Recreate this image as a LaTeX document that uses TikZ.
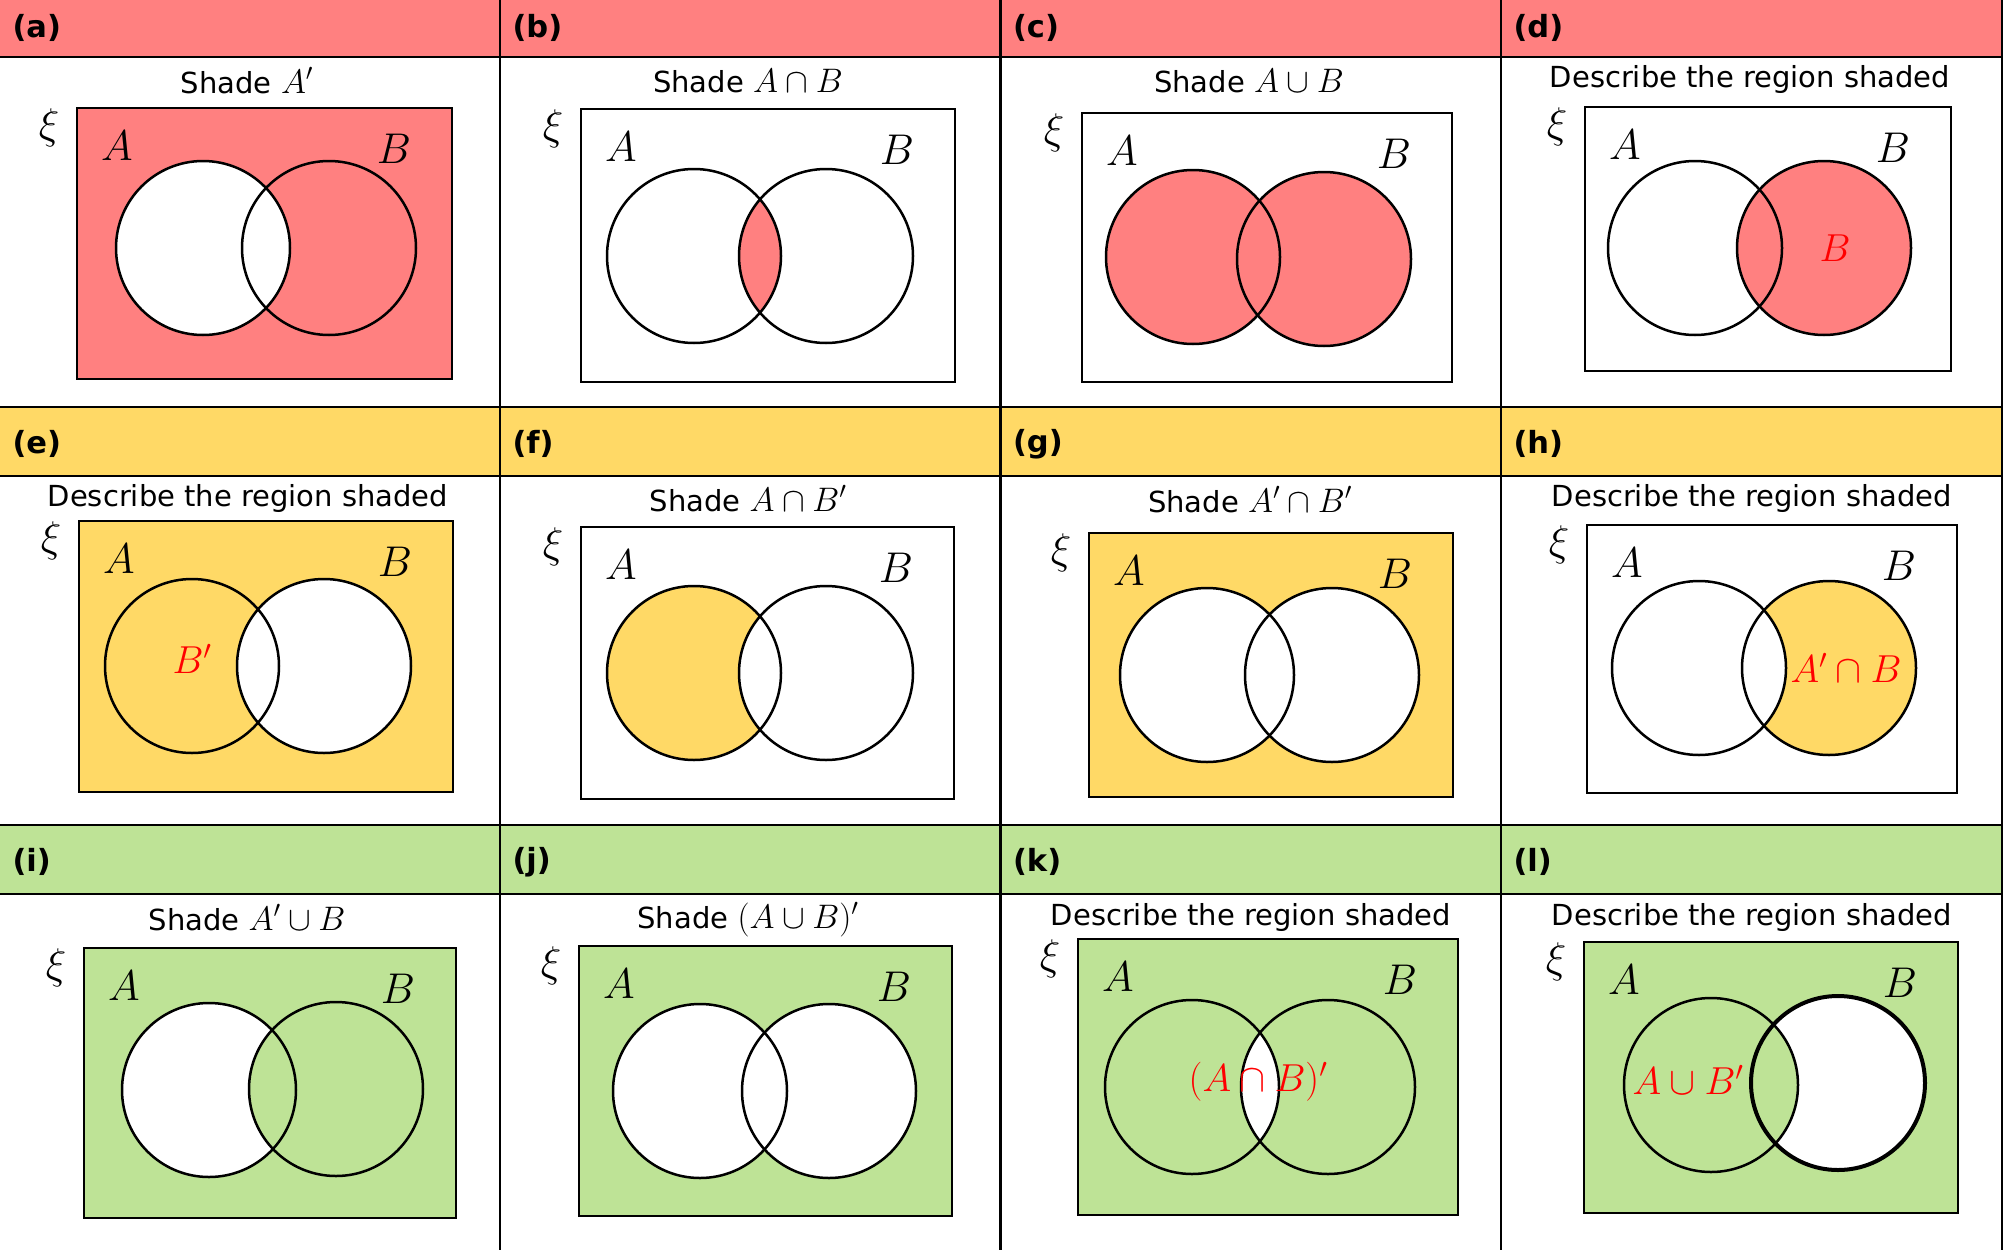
\RequirePackage{fix-cm}
\documentclass[tikz,border=0pt]{standalone}
\usepackage[no-math]{fontspec}
\setmainfont{DejaVu Sans}
\usetikzlibrary{calc}

\definecolor{redband}{RGB}{255,128,128}
\definecolor{yellowband}{RGB}{255,217,102}
\definecolor{greenband}{RGB}{190,227,150}

\tikzset{
  box/.style={draw, line width=2.8pt},
  ring/.style={draw, line width=2.5pt},
  grid/.style={draw, line width=2.6pt},
  title/.style={anchor=base, font=\fontsize{29}{34}\selectfont},
  tag/.style={anchor=west, font=\fontsize{30.5}{36}\selectfont\bfseries},
  setname/.style={font=\fontsize{43}{50}\selectfont},
  answer/.style={text=red, font=\fontsize{39}{45}\selectfont},
}
\newcommand{\vennr}{87pt}
\newcommand{\titlemath}[1]{{\fontsize{34}{40}\selectfont$#1$}}

\begin{document}
\begin{tikzpicture}[x=1pt, y=-1pt]
\useasboundingbox (0,0) rectangle (2008,1250);

% header bands
\fill[redband] (0,0) rectangle (2002,57);
\fill[yellowband] (0,407) rectangle (2002,476);
\fill[greenband] (0,825) rectangle (2002,894);

% frames and circle centres of each panel
\coordinate (a-nw) at (77,108);   \coordinate (a-se) at (452,379);
\coordinate (a-A) at (203,248);   \coordinate (a-B) at (329,248);
\coordinate (b-nw) at (581,109);  \coordinate (b-se) at (955,382);
\coordinate (b-A) at (694,256);   \coordinate (b-B) at (826,256);
\coordinate (c-nw) at (1082,113); \coordinate (c-se) at (1452,382);
\coordinate (c-A) at (1193,257);  \coordinate (c-B) at (1324,259);
\coordinate (d-nw) at (1585,107); \coordinate (d-se) at (1951,371);
\coordinate (d-A) at (1695,248);  \coordinate (d-B) at (1824,248);
\coordinate (e-nw) at (79,521);   \coordinate (e-se) at (453,792);
\coordinate (e-A) at (192,666);   \coordinate (e-B) at (324,666);
\coordinate (f-nw) at (581,527);  \coordinate (f-se) at (954,799);
\coordinate (f-A) at (694,673);   \coordinate (f-B) at (826,673);
\coordinate (g-nw) at (1089,533); \coordinate (g-se) at (1453,797);
\coordinate (g-A) at (1207,675);  \coordinate (g-B) at (1332,675);
\coordinate (h-nw) at (1587,525); \coordinate (h-se) at (1957,793);
\coordinate (h-A) at (1699,668);  \coordinate (h-B) at (1829,668);
\coordinate (i-nw) at (84,948);   \coordinate (i-se) at (456,1218);
\coordinate (i-A) at (209,1090);  \coordinate (i-B) at (336,1089);
\coordinate (j-nw) at (579,946);  \coordinate (j-se) at (952,1216);
\coordinate (j-A) at (700,1091);  \coordinate (j-B) at (829,1091);
\coordinate (k-nw) at (1078,939); \coordinate (k-se) at (1458,1215);
\coordinate (k-A) at (1192,1087); \coordinate (k-B) at (1328,1087);
\coordinate (l-nw) at (1584,942); \coordinate (l-se) at (1958,1213);
\coordinate (l-A) at (1711,1085); \coordinate (l-B) at (1838,1083);

% shading
\fill[redband] (a-nw) rectangle (a-se);
\fill[white] (a-A) circle[radius=\vennr];
\begin{scope}
  \clip (b-A) circle[radius=\vennr];
  \fill[redband] (b-B) circle[radius=\vennr];
\end{scope}
\fill[redband] (c-A) circle[radius=\vennr] (c-B) circle[radius=\vennr];
\fill[redband] (d-B) circle[radius=\vennr];
\fill[yellowband] (e-nw) rectangle (e-se);
\fill[white] (e-B) circle[radius=\vennr];
\fill[yellowband] (f-A) circle[radius=\vennr];
\fill[white] (f-B) circle[radius=\vennr];
\fill[yellowband] (g-nw) rectangle (g-se);
\fill[white] (g-A) circle[radius=\vennr] (g-B) circle[radius=\vennr];
\fill[yellowband] (h-B) circle[radius=\vennr];
\fill[white] (h-A) circle[radius=\vennr];
\fill[greenband] (i-nw) rectangle (i-se);
\fill[white] (i-A) circle[radius=\vennr];
\fill[greenband] (i-B) circle[radius=\vennr];
\fill[greenband] (j-nw) rectangle (j-se);
\fill[white] (j-A) circle[radius=\vennr] (j-B) circle[radius=\vennr];
\fill[greenband] (k-nw) rectangle (k-se);
\begin{scope}
  \clip (k-A) circle[radius=\vennr];
  \fill[white] (k-B) circle[radius=\vennr];
\end{scope}
\fill[greenband] (l-nw) rectangle (l-se);
\fill[white] (l-B) circle[radius=\vennr];
\fill[greenband] (l-A) circle[radius=\vennr];

% outlines and set names
\foreach \p in {a,b,c,d,e,f,g,h,i,j,k,l} {
  \draw[box] (\p-nw) rectangle (\p-se);
  \draw[ring] (\p-A) circle[radius=\vennr];
  \draw[ring] (\p-B) circle[radius=\vennr];
  \node[setname] (\p-xi) at ($(\p-nw)+(-28,20)$) {$\xi$};
  \node[setname] (\p-lA) at ($(\p-nw)+(40,38)$) {$A$};
  \node[setname] (\p-lB) at ($(\p-se |- \p-nw)+(-58,41)$) {$B$};
}
\draw[ring, line width=4pt] (l-B) circle[radius=\vennr];

% table lines
\foreach \y in {57,407,476,825,894}
  \draw[grid] (0,\y) -- (2002,\y);
\foreach \x in {500,1000.5,1501,2002}
  \draw[grid] (\x,0) -- (\x,1250);

% header tags
\foreach \p/\x/\y in {a/0/28, b/500/28, c/1000.5/28, d/1501/28,
                      e/0/444, f/500/444, g/1000.5/444, h/1501/444,
                      i/0/862, j/500/862, k/1000.5/862, l/1501/862}
  \node[tag] (tag-\p) at (\x+9,\y) {(\p)};

% questions
\node[title] (a-title) at (247,93) {Shade \titlemath{A'}};
\node[title] (b-title) at (748,92) {Shade \titlemath{A\cap B}};
\node[title] (c-title) at (1249,92) {Shade \titlemath{A\cup B}};
\node[title] (d-title) at (1750,87) {Describe the region shaded};
\node[title] (e-title) at (248,506) {Describe the region shaded};
\node[title] (f-title) at (748,511) {Shade \titlemath{A\cap B'}};
\node[title] (g-title) at (1250,512) {Shade \titlemath{A'\cap B'}};
\node[title] (h-title) at (1752,506) {Describe the region shaded};
\node[title] (i-title) at (247,930) {Shade \titlemath{A'\cup B}};
\node[title] (j-title) at (748,928) {Shade \titlemath{(A\cup B)'}};
\node[title] (k-title) at (1251,925) {Describe the region shaded};
\node[title] (l-title) at (1752,925) {Describe the region shaded};

% answers
\node[answer] (d-ans) at (1835,248) {$B$};
\node[answer] (e-ans) at (192,659) {$B'$};
\node[answer] (h-ans) at (1846,668) {$A'\cap B$};
\node[answer] (k-ans) at (1258,1082) {$(A\cap B)'$};
\node[answer] (l-ans) at (1688,1080) {$A\cup B'$};

\end{tikzpicture}
\end{document}
